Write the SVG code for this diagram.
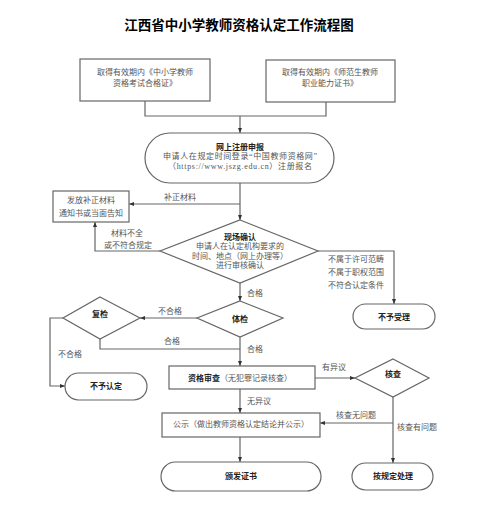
<svg xmlns="http://www.w3.org/2000/svg" width="491" height="507" viewBox="0 0 491 507">
<defs>
<marker id="arr" viewBox="0 0 10 10" refX="10" refY="5" markerWidth="5" markerHeight="5" orient="auto" markerUnits="userSpaceOnUse">
<path d="M0,1 L10,5 L0,9 z" fill="#333"/>
</marker>
<style>
.shape{fill:#fff;stroke:#666;stroke-width:1.2}
.ln{fill:none;stroke:#666;stroke-width:1.2}
.t{font-family:"Liberation Serif","Noto Sans CJK SC",serif;font-size:8px;fill:#555;text-anchor:middle}
.s{text-anchor:start}
.b{font-weight:bold;fill:#222}
.title{font-family:"Liberation Sans","Noto Sans CJK SC",sans-serif;font-size:13.5px;font-weight:bold;fill:#000;text-anchor:middle}
</style>
</defs>
<rect width="491" height="507" fill="#fff"/>
<text class="title" x="239" y="30">江西省中小学教师资格认定工作流程图</text>

<g id="connectors">
<path class="ln" d="M145,101 V116 H326 V102"/>
<path class="ln" d="M240,116 V133" marker-end="url(#arr)"/>
<path class="ln" d="M240,183 V220" marker-end="url(#arr)"/>
<path class="ln" d="M240,204 H129" marker-end="url(#arr)"/>
<path class="ln" d="M160,251 H95 V222" marker-end="url(#arr)"/>
<path class="ln" d="M318,251 H394 V304" marker-end="url(#arr)"/>
<path class="ln" d="M240,283 V301" marker-end="url(#arr)"/>
<path class="ln" d="M197,318 H140" marker-end="url(#arr)"/>
<path class="ln" d="M100,339 V349 H240"/>
<path class="ln" d="M240,337 V366" marker-end="url(#arr)"/>
<path class="ln" d="M63,318 H50 V386 H65" marker-end="url(#arr)"/>
<path class="ln" d="M315,378 H355" marker-end="url(#arr)"/>
<path class="ln" d="M393,397 V463" marker-end="url(#arr)"/>
<path class="ln" d="M393,423 H320" marker-end="url(#arr)"/>
<path class="ln" d="M240,389 V413" marker-end="url(#arr)"/>
<path class="ln" d="M240,437 V462" marker-end="url(#arr)"/>
<text class="t" x="180" y="200">补正材料</text>
<text class="t" x="127" y="236">材料不全</text>
<text class="t" x="128" y="248">或不符合规定</text>
<text class="t s" x="328" y="262">不属于许可范畴</text>
<text class="t s" x="328" y="275">不属于职权范围</text>
<text class="t s" x="328" y="288">不符合认定条件</text>
<text class="t s" x="247" y="296">合格</text>
<text class="t" x="170" y="314">不合格</text>
<text class="t" x="172" y="344">合格</text>
<text class="t s" x="247" y="352">合格</text>
<text class="t" x="70" y="357">不合格</text>
<text class="t" x="334" y="370">有异议</text>
<text class="t s" x="247" y="404">无异议</text>
<text class="t" x="356" y="418">核查无问题</text>
<text class="t s" x="397" y="430">核查有问题</text>
</g>

<g id="n-cond1">
<rect class="shape" x="80" y="59" width="130" height="42"/>
<text class="t" x="145" y="75">取得有效期内《中小学教师</text>
<text class="t" x="145" y="86">资格考试合格证》</text>
</g>
<g id="n-cond2">
<rect class="shape" x="266" y="60" width="129" height="42"/>
<text class="t" x="330" y="75">取得有效期内《师范生教师</text>
<text class="t" x="330" y="86">职业能力证书》</text>
</g>
<g id="n-register">
<rect class="shape" x="145" y="133" width="189" height="50" rx="25"/>
<text class="t b" x="240" y="150">网上注册申报</text>
<text class="t" x="240" y="159" textLength="154" lengthAdjust="spacing">申请人在规定时间登录“中国教师资格网”</text>
<text class="t" x="240" y="169" textLength="144" lengthAdjust="spacing">（https://www.jszg.edu.cn）注册报名</text>
</g>
<g id="n-supplement">
<rect class="shape" x="53" y="191" width="76" height="31"/>
<text class="t" x="91" y="203">发放补正材料</text>
<text class="t" x="91" y="216">通知书或当面告知</text>
</g>
<g id="n-confirm">
<polygon class="shape" points="240,220 318,251 240,283 160,251"/>
<text class="t b" x="240" y="240">现场确认</text>
<text class="t" x="240" y="249">申请人在认定机构要求的</text>
<text class="t" x="240" y="259">时间、地点（网上办理等）</text>
<text class="t" x="240" y="268">进行审核确认</text>
</g>
<g id="n-reject">
<rect class="shape" x="353" y="304" width="82" height="25" rx="12.5"/>
<text class="t b" x="394" y="320">不予受理</text>
</g>
<g id="n-exam">
<polygon class="shape" points="240,301 283,318 240,337 197,318"/>
<text class="t b" x="240" y="322">体检</text>
</g>
<g id="n-reexam">
<polygon class="shape" points="100,297 140,318 100,339 63,318"/>
<text class="t b" x="100" y="317">复检</text>
</g>
<g id="n-deny">
<rect class="shape" x="65" y="373" width="82" height="27" rx="13.5"/>
<text class="t b" x="106" y="389">不予认定</text>
</g>
<g id="n-review">
<rect class="shape" x="169" y="366" width="146" height="23"/>
<text class="t" x="240" y="381"><tspan class="b">资格审查</tspan>（无犯罪记录核查）</text>
</g>
<g id="n-check">
<polygon class="shape" points="393,359 429,378 393,397 355,378"/>
<text class="t b" x="393" y="377">核查</text>
</g>
<g id="n-publish">
<rect class="shape" x="162" y="413" width="158" height="24"/>
<text class="t" x="241" y="427">公示（做出教师资格认定结论并公示）</text>
</g>
<g id="n-issue">
<rect class="shape" x="161" y="462" width="160" height="29" rx="14.5"/>
<text class="t b" x="241" y="479">颁发证书</text>
</g>
<g id="n-handle">
<rect class="shape" x="352" y="463" width="81" height="27" rx="13.5"/>
<text class="t b" x="393" y="479">按规定处理</text>
</g>
</svg>
